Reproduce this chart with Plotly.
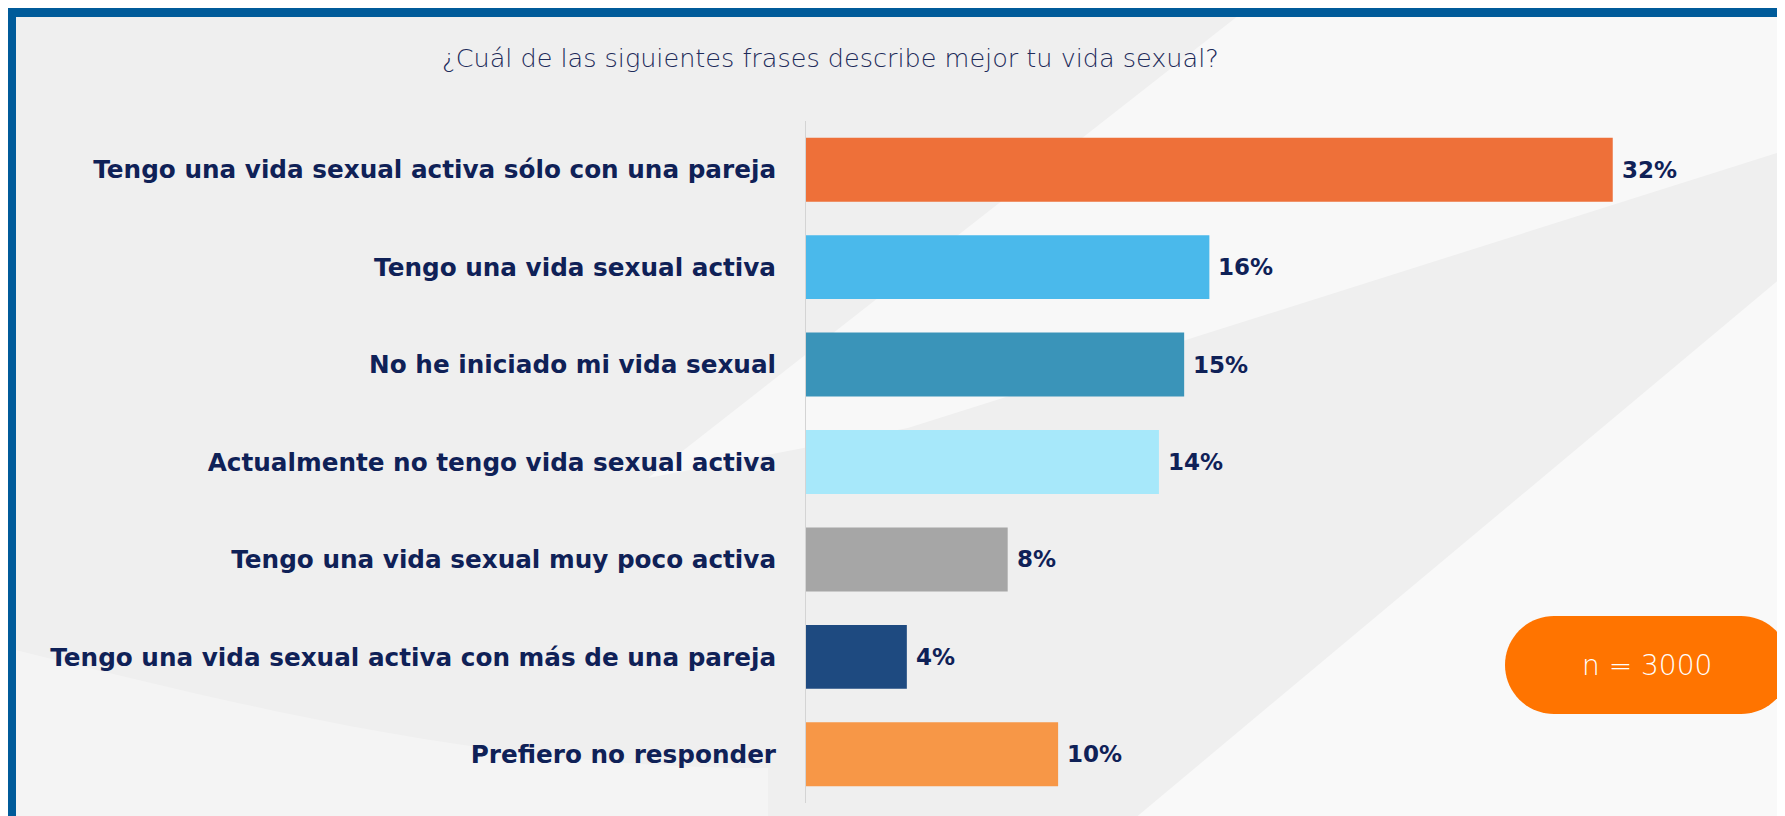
import math
import plotly.graph_objects as go

categories = [
    "Tengo una vida sexual activa sólo con una pareja",
    "Tengo una vida sexual activa",
    "No he iniciado mi vida sexual",
    "Actualmente no tengo vida sexual activa",
    "Tengo una vida sexual muy poco activa",
    "Tengo una vida sexual activa con más de una pareja",
    "Prefiero no responder",
]
values = [32, 16, 15, 14, 8, 4, 10]
value_labels = ["32%", "16%", "15%", "14%", "8%", "4%", "10%"]
bar_colors = ["#ee7039", "#4ab9eb", "#3a94b9", "#a7e8fa", "#a6a6a6", "#1e4a80", "#f79747"]
title_text = "¿Cuál de las siguientes frases describe mejor tu vida sexual?"
sample_text = "n = 3000"

W, H = 1785, 816
ML, MR, MT, MB = 798, 29, 113, 21
PW, PH = W - ML - MR, H - MT - MB

def px(x):
    return (x - ML) / PW

def py(y):
    return 1 - (y - MT) / PH

NAVY = "#0f2157"
LABEL_FONT = "DejaVu Sans"

fig = go.Figure()
fig.add_trace(go.Bar(
    x=values, y=categories, orientation="h",
    marker=dict(color=bar_colors, line=dict(width=0)),
    hoverinfo="skip", showlegend=False,
))

annotations = []
for c, v, t in zip(categories, values, value_labels):
    annotations.append(dict(
        x=v, y=c, xref="x", yref="y", text=t, showarrow=False,
        xanchor="left", yanchor="middle", xshift=7,
        font=dict(family=LABEL_FONT, size=23, color=NAVY, weight=700),
    ))

annotations.append(dict(
    x=px(822), y=py(50), xref="paper", yref="paper", text=title_text,
    showarrow=False, xanchor="center", yanchor="middle",
    font=dict(family=LABEL_FONT, size=25.5, color="#1d2b5a", weight=200),
))
annotations.append(dict(
    x=px(1639), y=py(657), xref="paper", yref="paper", text=sample_text,
    showarrow=False, xanchor="center", yanchor="middle",
    font=dict(family=LABEL_FONT, size=28, color="#ffffff", weight=200),
))

def poly(points, color, opacity=1.0, layer="below"):
    d = "M " + " L ".join(f"{px(x):.5f},{py(y):.5f}" for x, y in points) + " Z"
    return dict(type="path", xref="paper", yref="paper", path=d,
                fillcolor=color, opacity=opacity, line=dict(width=0), layer=layer)

shapes = []
# subtle background swooshes
shapes.append(poly([(1240, 0), (1785, 0), (1785, 140), (900, 420), (640, 470)], "#ffffff", 0.55))
shapes.append(poly([(1785, 260), (1785, 816), (1120, 816)], "#ffffff", 0.6))
curve = [(0, 640)]
for i in range(1, 21):
    t = i / 20
    curve.append((760 * t, 640 + 120 * math.sin(t * math.pi / 2)))
shapes.append(poly(curve + [(760, 816), (0, 816)], "#ffffff", 0.3))

# pill badge
x0, x1, y0, y1 = 1497, 1782, 608, 706
r = (y1 - y0) / 2
pts = []
for i in range(37):
    a = -math.pi / 2 + math.pi * i / 36
    pts.append((x1 - r + r * math.cos(a), (y0 + y1) / 2 + r * math.sin(a)))
for i in range(37):
    a = math.pi / 2 + math.pi * i / 36
    pts.append((x0 + r + r * math.cos(a), (y0 + y1) / 2 + r * math.sin(a)))
shapes.append(poly(pts, "#ff7400", 1.0, layer="above"))

# blue frame
shapes.append(dict(type="rect", xref="paper", yref="paper", x0=px(0), x1=px(W), y0=py(9), y1=py(0),
                   fillcolor="#005b9a", line=dict(width=0), layer="above"))
shapes.append(dict(type="rect", xref="paper", yref="paper", x0=px(0), x1=px(8), y0=py(H), y1=py(0),
                   fillcolor="#005b9a", line=dict(width=0), layer="above"))

fig.update_layout(
    width=W, height=H,
    margin=dict(l=ML, r=MR, t=MT, b=MB, pad=0),
    paper_bgcolor="#efefef", plot_bgcolor="rgba(0,0,0,0)",
    bargap=0.344,
    xaxis=dict(range=[0, 38], visible=False, fixedrange=True),
    yaxis=dict(autorange="reversed", showline=True, linecolor="#d4d4d4", linewidth=1,
               showgrid=False, zeroline=False, ticks="", ticklabelstandoff=24,
               tickfont=dict(family=LABEL_FONT, size=24.7, color=NAVY, weight=700),
               fixedrange=True),
    annotations=annotations, shapes=shapes,
)

fig.write_html("out.html")
